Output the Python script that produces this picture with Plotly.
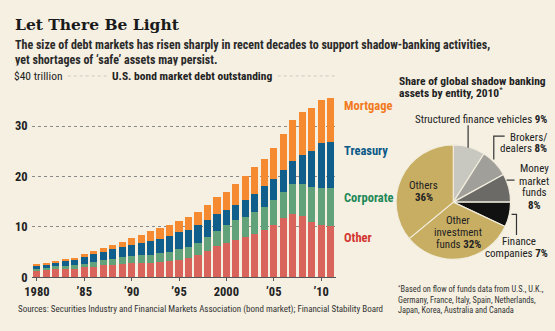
import numpy as np
import plotly.graph_objects as go

# U.S. bond market debt outstanding, $ trillion (cumulative stack tops per year)
years = list(range(1980, 2012))
total_top = [2.55, 2.81, 3.20, 3.60, 3.86, 4.58, 5.16, 5.80, 6.47, 7.00, 7.78, 8.43, 9.15, 9.87,
             10.46, 11.24, 11.9, 13.0, 14.3, 15.9, 16.9, 18.5, 20.1, 21.9, 23.5, 25.6, 28.4,
             31.3, 32.7, 33.6, 35.2, 35.5]
treasury_top = [2.42, 2.68, 3.00, 3.40, 3.60, 4.25, 4.64, 5.10, 5.56, 6.01, 6.34, 6.73, 7.12, 7.58,
                8.17, 8.89, 9.4, 10.3, 11.3, 12.6, 13.3, 14.3, 15.3, 16.6, 18.2, 19.5, 21.3,
                23.1, 24.2, 25.1, 26.7, 26.8]
corporate_top = [1.70, 1.90, 2.16, 2.29, 2.35, 2.68, 3.01, 3.53, 3.73, 4.12, 4.25, 4.38, 4.44, 4.84,
                 5.03, 5.56, 6.0, 6.8, 7.9, 9.2, 10.3, 11.4, 12.0, 13.0, 14.0, 15.3, 17.0,
                 18.6, 18.5, 17.9, 17.8, 17.7]
other = [1.24, 1.44, 1.63, 1.63, 1.57, 1.96, 2.03, 2.35, 2.48, 2.61, 2.75, 2.81, 2.81, 3.00,
         3.14, 3.53, 3.9, 4.4, 5.2, 6.2, 6.9, 7.5, 8.0, 8.5, 9.4, 10.4, 11.7,
         12.5, 12.1, 10.9, 10.4, 10.1]

corporate = (np.array(corporate_top) - np.array(other)).round(2)
treasury = (np.array(treasury_top) - np.array(corporate_top)).round(2)
mortgage = (np.array(total_top) - np.array(treasury_top)).round(2)

x_tickvals = [1980, 1985, 1990, 1995, 2000, 2005, 2010]
x_ticktext = ["1980", "\u201985", "\u201990", "\u201995", "2000", "\u201905", "\u201910"]
y_tickvals = [0, 10, 20, 30]
y_ticktext = ["0", "10", "20", "30"]
y_top = 40

# Global shadow banking assets by entity, 2010 (%)
pie_labels = ["Structured finance vehicles", "Brokers/dealers", "Money market funds",
              "Finance companies", "Other investment funds", "Others"]
pie_values = [9, 8, 8, 7, 32, 36]

W, H = 555, 331
BG = "#F5F0E2"
SANS = "Roboto Condensed, Roboto, sans-serif"
SERIF = "DejaVu Serif, serif"
INK = "#222222"
GRID = "#8a8a8a"

C_MORT, C_TREA, C_CORP, C_OTH = "#F68A30", "#0F5E8C", "#62A27A", "#D9645C"


def px(x):
    return x / W


def py(y):
    return 1 - y / H


fig = go.Figure()
for name, vals, col in [("Other", other, C_OTH), ("Corporate", corporate, C_CORP),
                        ("Treasury", treasury, C_TREA), ("Mortgage", mortgage, C_MORT)]:
    fig.add_trace(go.Bar(x=years, y=vals, name=name, marker=dict(color=col, line=dict(width=0)),
                         xaxis="x", yaxis="y", hoverinfo="skip"))

fig.add_trace(go.Pie(
    labels=pie_labels, values=pie_values, sort=False, direction="clockwise", rotation=0,
    marker=dict(colors=["#C9C8C0", "#A09F99", "#6B6A67", "#111111", "#C8AE62", "#C8AE62"],
                line=dict(color="#F2EDDD", width=1.2)),
    textinfo="none", showlegend=False, hoverinfo="skip",
    domain=dict(x=[px(394), px(510)], y=[py(265), py(148)]),
))

y0, y40 = 283.3, 77.3
fig.update_layout(
    width=W, height=H, margin=dict(l=0, r=0, t=0, b=0),
    paper_bgcolor=BG, plot_bgcolor="rgba(0,0,0,0)",
    barmode="stack", bargap=0.24, showlegend=False,
    xaxis=dict(domain=[px(25), px(333)], range=[1979.45, 2011.55],
               tickvals=x_tickvals, ticktext=x_ticktext, ticks="outside", ticklen=3,
               tickcolor="#555555", showline=True, linecolor="#555555", linewidth=1.3,
               showgrid=False, zeroline=False,
               tickfont=dict(family=SANS, size=12.5, color=INK, weight="bold"), fixedrange=True),
    yaxis=dict(domain=[py(y0), py(y40)], range=[0, y_top], tickvals=y_tickvals, ticktext=y_ticktext,
               showgrid=True, gridcolor=GRID, griddash="dot", gridwidth=1,
               zeroline=False, showline=False, ticks="", ticklabelstandoff=3,
               tickfont=dict(family=SANS, size=12.5, color=INK, weight="bold"), fixedrange=True),
)

# top dotted rule at $40 trillion, carrying the header row
fig.add_shape(type="line", xref="x domain", yref="y", x0=0, x1=1, y0=y_top, y1=y_top,
              line=dict(color=GRID, width=1, dash="dot"), layer="below")

ann = []


def text(x, y, s, size=12, color=INK, xanchor="left", family=SANS, bg=None):
    d = dict(x=px(x), y=py(y), xref="paper", yref="paper", text=s, showarrow=False,
             xanchor=xanchor, yanchor="middle", font=dict(family=family, size=size, color=color))
    if bg:
        d.update(bgcolor=bg, borderpad=3)
    ann.append(d)


# headline and deck
text(6, 25, "<b>Let There Be Light</b>", size=15.5, family=SERIF, color="#1a1a1a")
text(6, 46, "<b>The size of debt markets has risen sharply in recent decades to support shadow-banking activities,</b>", size=12, color="#2a2a2a")
text(6, 61, "<b>yet shortages of \u2018safe\u2019 assets may persist.</b>", size=12, color="#2a2a2a")

# bar chart header row sitting on the 40 rule
text(3, 78, "$40 trillion", size=11.5, bg=BG)
text(102, 78, "<b>U.S. bond market debt outstanding</b>", size=11.5, bg=BG)

# series labels
text(339, 108, "<b>Mortgage</b>", size=12.5, color="#F27A1E")
text(339, 154, "<b>Treasury</b>", size=12.5, color="#0B5A88")
text(339, 202, "<b>Corporate</b>", size=12.5, color="#1E8858")
text(339, 243, "<b>Other</b>", size=12.5, color="#D2352F")

# source line
text(9, 316, "Sources: Securities Industry and Financial Markets Association (bond market); Financial Stability Board",
     size=9.0, color="#333333")

# pie header
text(395, 83, "<b>Share of global shadow banking</b>", size=11.5)
text(395, 95, "<b>assets by entity, 2010</b><sup>*</sup>", size=11.5)

# pie labels
PS = 11
text(549, 122, "Structured finance vehicles <b>9%</b>", size=PS, xanchor="right")
text(549, 140, "Brokers/", size=PS, xanchor="right")
text(549, 152, "dealers <b>8%</b>", size=PS, xanchor="right")
for yy, s in [(172, "Money"), (185, "market"), (197, "funds"), (210, "<b>8%</b>")]:
    text(534, yy, s, size=PS, xanchor="center")
text(499, 247, "Finance", size=PS)
text(550, 259, "companies <b>7%</b>", size=PS, xanchor="right")
text(422, 189, "Others", size=PS, xanchor="center")
text(422, 202, "<b>36%</b>", size=PS, xanchor="center")
for yy, s in [(225, "Other"), (238, "investment"), (250, "funds <b>32%</b>")]:
    text(457, yy, s, size=PS, xanchor="center")

# footnote
FS = 8.3
text(394, 295, "<sup>*</sup>Based on flow of funds data from U.S., U.K.,", size=FS, color="#333333")
text(394, 306, "Germany, France, Italy, Spain, Netherlands,", size=FS, color="#333333")
text(394, 317, "Japan, Korea, Australia and Canada", size=FS, color="#333333")

fig.update_layout(annotations=ann)

# leader lines for the pie labels
LC = "#333333"
leaders = [
    [(467, 128), (467, 151)],
    [(504, 139), (493, 139), (493, 163)],
    [(506, 184), (514, 184)],
    [(511, 219), (516, 219), (516, 240)],
]
for pts in leaders:
    path = "M " + " L ".join(f"{px(a)},{py(b)}" for a, b in pts)
    fig.add_shape(type="path", path=path, xref="paper", yref="paper",
                  line=dict(color=LC, width=1.2))

fig.write_html("out.html")
